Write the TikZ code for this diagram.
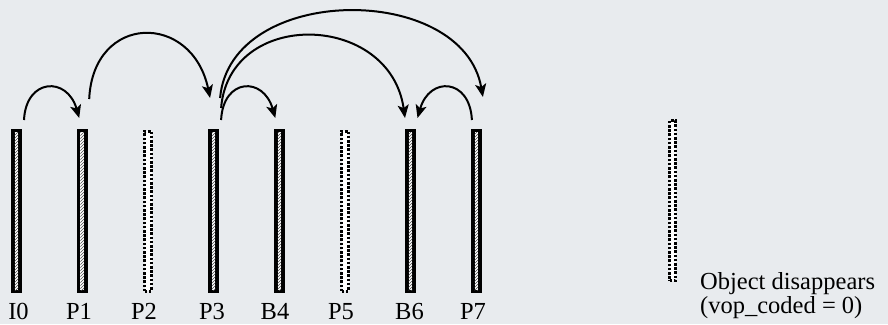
\documentclass[tikz,border=0pt]{standalone}
\usepackage{fontspec}
\setmainfont{Liberation Serif}
\usetikzlibrary{arrows.meta,patterns,calc}
\definecolor{bg}{HTML}{E8EBEE}
\begin{document}
\begin{tikzpicture}[x=1pt,y=-1pt,
  hbar/.style={rectangle,fill=black,draw=none,inner sep=0pt,outer sep=0pt,
    minimum width=11pt,minimum height=164pt,
    path picture={
      \fill[white] ([xshift=-1.8pt,yshift=3pt]path picture bounding box.south) rectangle ([xshift=1.8pt,yshift=-3pt]path picture bounding box.north);
      \fill[pattern=north east lines,pattern color=black!70] ([xshift=-1.8pt,yshift=3pt]path picture bounding box.south) rectangle ([xshift=1.8pt,yshift=-3pt]path picture bounding box.north);
    }},
  dbar/.style={rectangle,fill=white,draw=black,line width=3pt,dash pattern=on 2.6pt off 1.6pt,
    inner sep=0pt,outer sep=0pt,minimum width=7pt,minimum height=160pt},
  lbl/.style={anchor=base,inner sep=0pt,font=\fontsize{24.5}{25}\selectfont},
  txt/.style={anchor=base west,inner sep=0pt,font=\fontsize{24.5}{25}\selectfont},
  arr/.style={line width=2pt,-{Stealth[length=13pt,width=11pt,inset=3pt]}}]
\useasboundingbox[fill=bg] (0,0) rectangle (888,324);
% bars
\node[hbar] (I0) at (16.5,211) {};
\node[hbar] (P1) at (82.2,211) {};
\node[dbar] (P2) at (148,211) {};
\node[hbar] (P3) at (213.6,211) {};
\node[hbar] (B4) at (279.3,211) {};
\node[dbar] (P5) at (345,211) {};
\node[hbar] (B6) at (410.5,211) {};
\node[hbar] (P7) at (476.4,211) {};
\node[dbar,minimum width=6pt] (gone) at (672.5,200.5) {};
% labels
\node[lbl] (lI0) at (18.5,319) {I0};
\node[lbl] (lP1) at (79,319) {P1};
\node[lbl] (lP2) at (144,319) {P2};
\node[lbl] (lP3) at (212,319) {P3};
\node[lbl] (lB4) at (275,319) {B4};
\node[lbl] (lP5) at (341,319) {P5};
\node[lbl] (lB6) at (409.5,319) {B6};
\node[lbl] (lP7) at (473,319) {P7};
\node[txt] (obj1) at (700,289) {Object disappears};
\node[txt] (obj2) at (700,313) {(vop\_coded = 0)};
% arrows
\draw[arr] ($(I0.north)+(7.5,-9)$) .. controls +(2,-42) and +(-12,-42) .. ($(P1.north)+(-3,-11)$);
\draw[arr] ($(P1.north)+(7,-30)$) .. controls +(4,-86) and +(-18,-86) .. ($(P3.north)+(-3.5,-31)$);
\draw[arr] ($(P3.north)+(7.5,-9)$) .. controls +(2,-42) and +(-12,-42) .. ($(B4.north)+(-4,-11)$);
\draw[arr] ($(P3.north)+(7.5,-21)$) .. controls +(8,-100) and +(-15,-106) .. ($(B6.north)+(-5.5,-11)$);
\draw[arr] ($(P3.north)+(6.5,-31)$) .. controls +(10,-115) and +(-20,-115) .. ($(P7.north)+(6.5,-32)$);
\draw[arr] ($(P7.north)+(-4.5,-9)$) .. controls +(-2,-42) and +(12,-42) .. ($(B6.north)+(7,-11)$);
\end{tikzpicture}
\end{document}
